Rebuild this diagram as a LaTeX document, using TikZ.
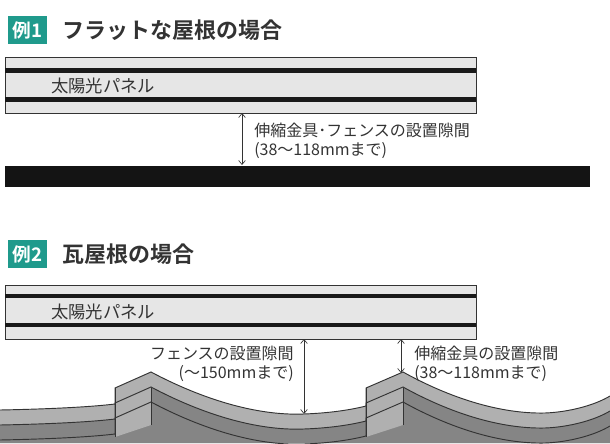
\documentclass[tikz,border=0pt]{standalone}
\usepackage{fontspec}
\setmainfont{Noto Sans CJK JP}[BoldFont={Noto Sans CJK JP Bold}]
\usetikzlibrary{arrows.meta}
\definecolor{teal1}{HTML}{1F9A8C}
\definecolor{panel}{HTML}{E6E6E6}
\definecolor{tileL}{HTML}{B0B0B0}
\definecolor{tileD}{HTML}{858585}
\definecolor{ink}{HTML}{333333}
\begin{document}
\begin{tikzpicture}[x=0.75pt,y=-0.75pt,
  tag/.style={fill=teal1,text=white,font=\bfseries\fontsize{14}{14}\selectfont,minimum width=29pt,minimum height=21pt,inner sep=0pt},
  title/.style={anchor=west,text=ink,font=\bfseries\fontsize{16.5}{16.5}\selectfont,inner sep=0pt},
  lbl/.style={anchor=west,text=ink,font=\fontsize{12}{14}\selectfont,inner sep=0pt,align=left},
  lblr/.style={anchor=east,text=ink,font=\fontsize{12}{14}\selectfont,inner sep=0pt,align=right},
  ptext/.style={anchor=west,text=ink,font=\fontsize{13}{13}\selectfont,inner sep=0pt},
  dim/.style={draw=ink,line width=0.5pt,{Straight Barb[length=3pt,width=5pt]}-{Straight Barb[length=3pt,width=5pt]}},
  pnl/.style={fill=panel,draw=ink,line width=0.6pt},
  blk/.style={fill=black!90}]
\useasboundingbox (0,0) rectangle (610,443);
% ---------- Example 1 ----------
\node[tag] (t1) at (27.5,30) {例1};
\node[title] (h1) at (62,30) {フラットな屋根の場合};
\draw[pnl] (5,57) rectangle (476,113);
\fill[blk] (5,68) rectangle (476,73);
\fill[blk] (5,97) rectangle (476,102);
\node[ptext] (p1) at (51,86) {太陽光パネル};
\coordinate (a1) at (242,113);
\coordinate (b1) at (242,165);
\draw[dim] (a1) -- (b1);
\fill[black!92] (5,166) rectangle (590,187);
\node[lbl] (l1) at (254,141) {伸縮金具･フェンスの設置隙間\\(38〜118mmまで)};
% ---------- Example 2 ----------
\node[tag] (t2) at (27.5,254) {例2};
\node[title] (h2) at (62,254) {瓦屋根の場合};
% tiles
\def\roof#1{(0,410+#1) .. controls (50,409+#1) and (90,407+#1) .. (115,404+#1)
  -- (115,388+#1) -- (151,372+#1)
  .. controls (200,398+#1) and (255,416+#1) .. (304,414+#1)
  .. controls (330,413+#1) and (350,410+#1) .. (366,406+#1)
  -- (366,388+#1) -- (403,372+#1)
  .. controls (450,398+#1) and (500,414+#1) .. (545,413+#1)
  .. controls (570,412+#1) and (595,405+#1) .. (610,396+#1)}
\fill[tileL] \roof{0} -- (610,443) -- (0,443) -- cycle;
\fill[tileD] \roof{15} -- (610,443) -- (0,443) -- cycle;
\fill[tileL] (115,388) -- (151,372) -- (151,425) -- (115,437) -- cycle;
\fill[tileL] (366,388) -- (403,372) -- (403,425) -- (366,437) -- cycle;
\draw[ink,line width=0.7pt] \roof{0};
\draw[ink,line width=0.7pt] \roof{15};
\draw[ink,line width=0.7pt] \roof{30};
\draw[ink,line width=0.7pt] (115,388) -- (115,437) (151,388) -- (151,425);
\draw[ink,line width=0.7pt] (366,388) -- (366,437) (403,388) -- (403,425);
% panel
\draw[pnl] (5,285) rectangle (476,339);
\fill[blk] (5,294) rectangle (476,298);
\fill[blk] (5,323) rectangle (476,327);
\node[ptext] (p2) at (51,312) {太陽光パネル};
\coordinate (a2) at (304,339);
\coordinate (b2) at (304,414);
\draw[dim] (a2) -- (b2);
\coordinate (a3) at (401,339);
\coordinate (b3) at (401,373);
\draw[dim] (a3) -- (b3);
\node[lblr] (l2) at (294,364) {フェンスの設置隙間\\(〜150mmまで)};
\node[lbl] (l3) at (414,364) {伸縮金具の設置隙間\\(38〜118mmまで)};
\end{tikzpicture}
\end{document}
